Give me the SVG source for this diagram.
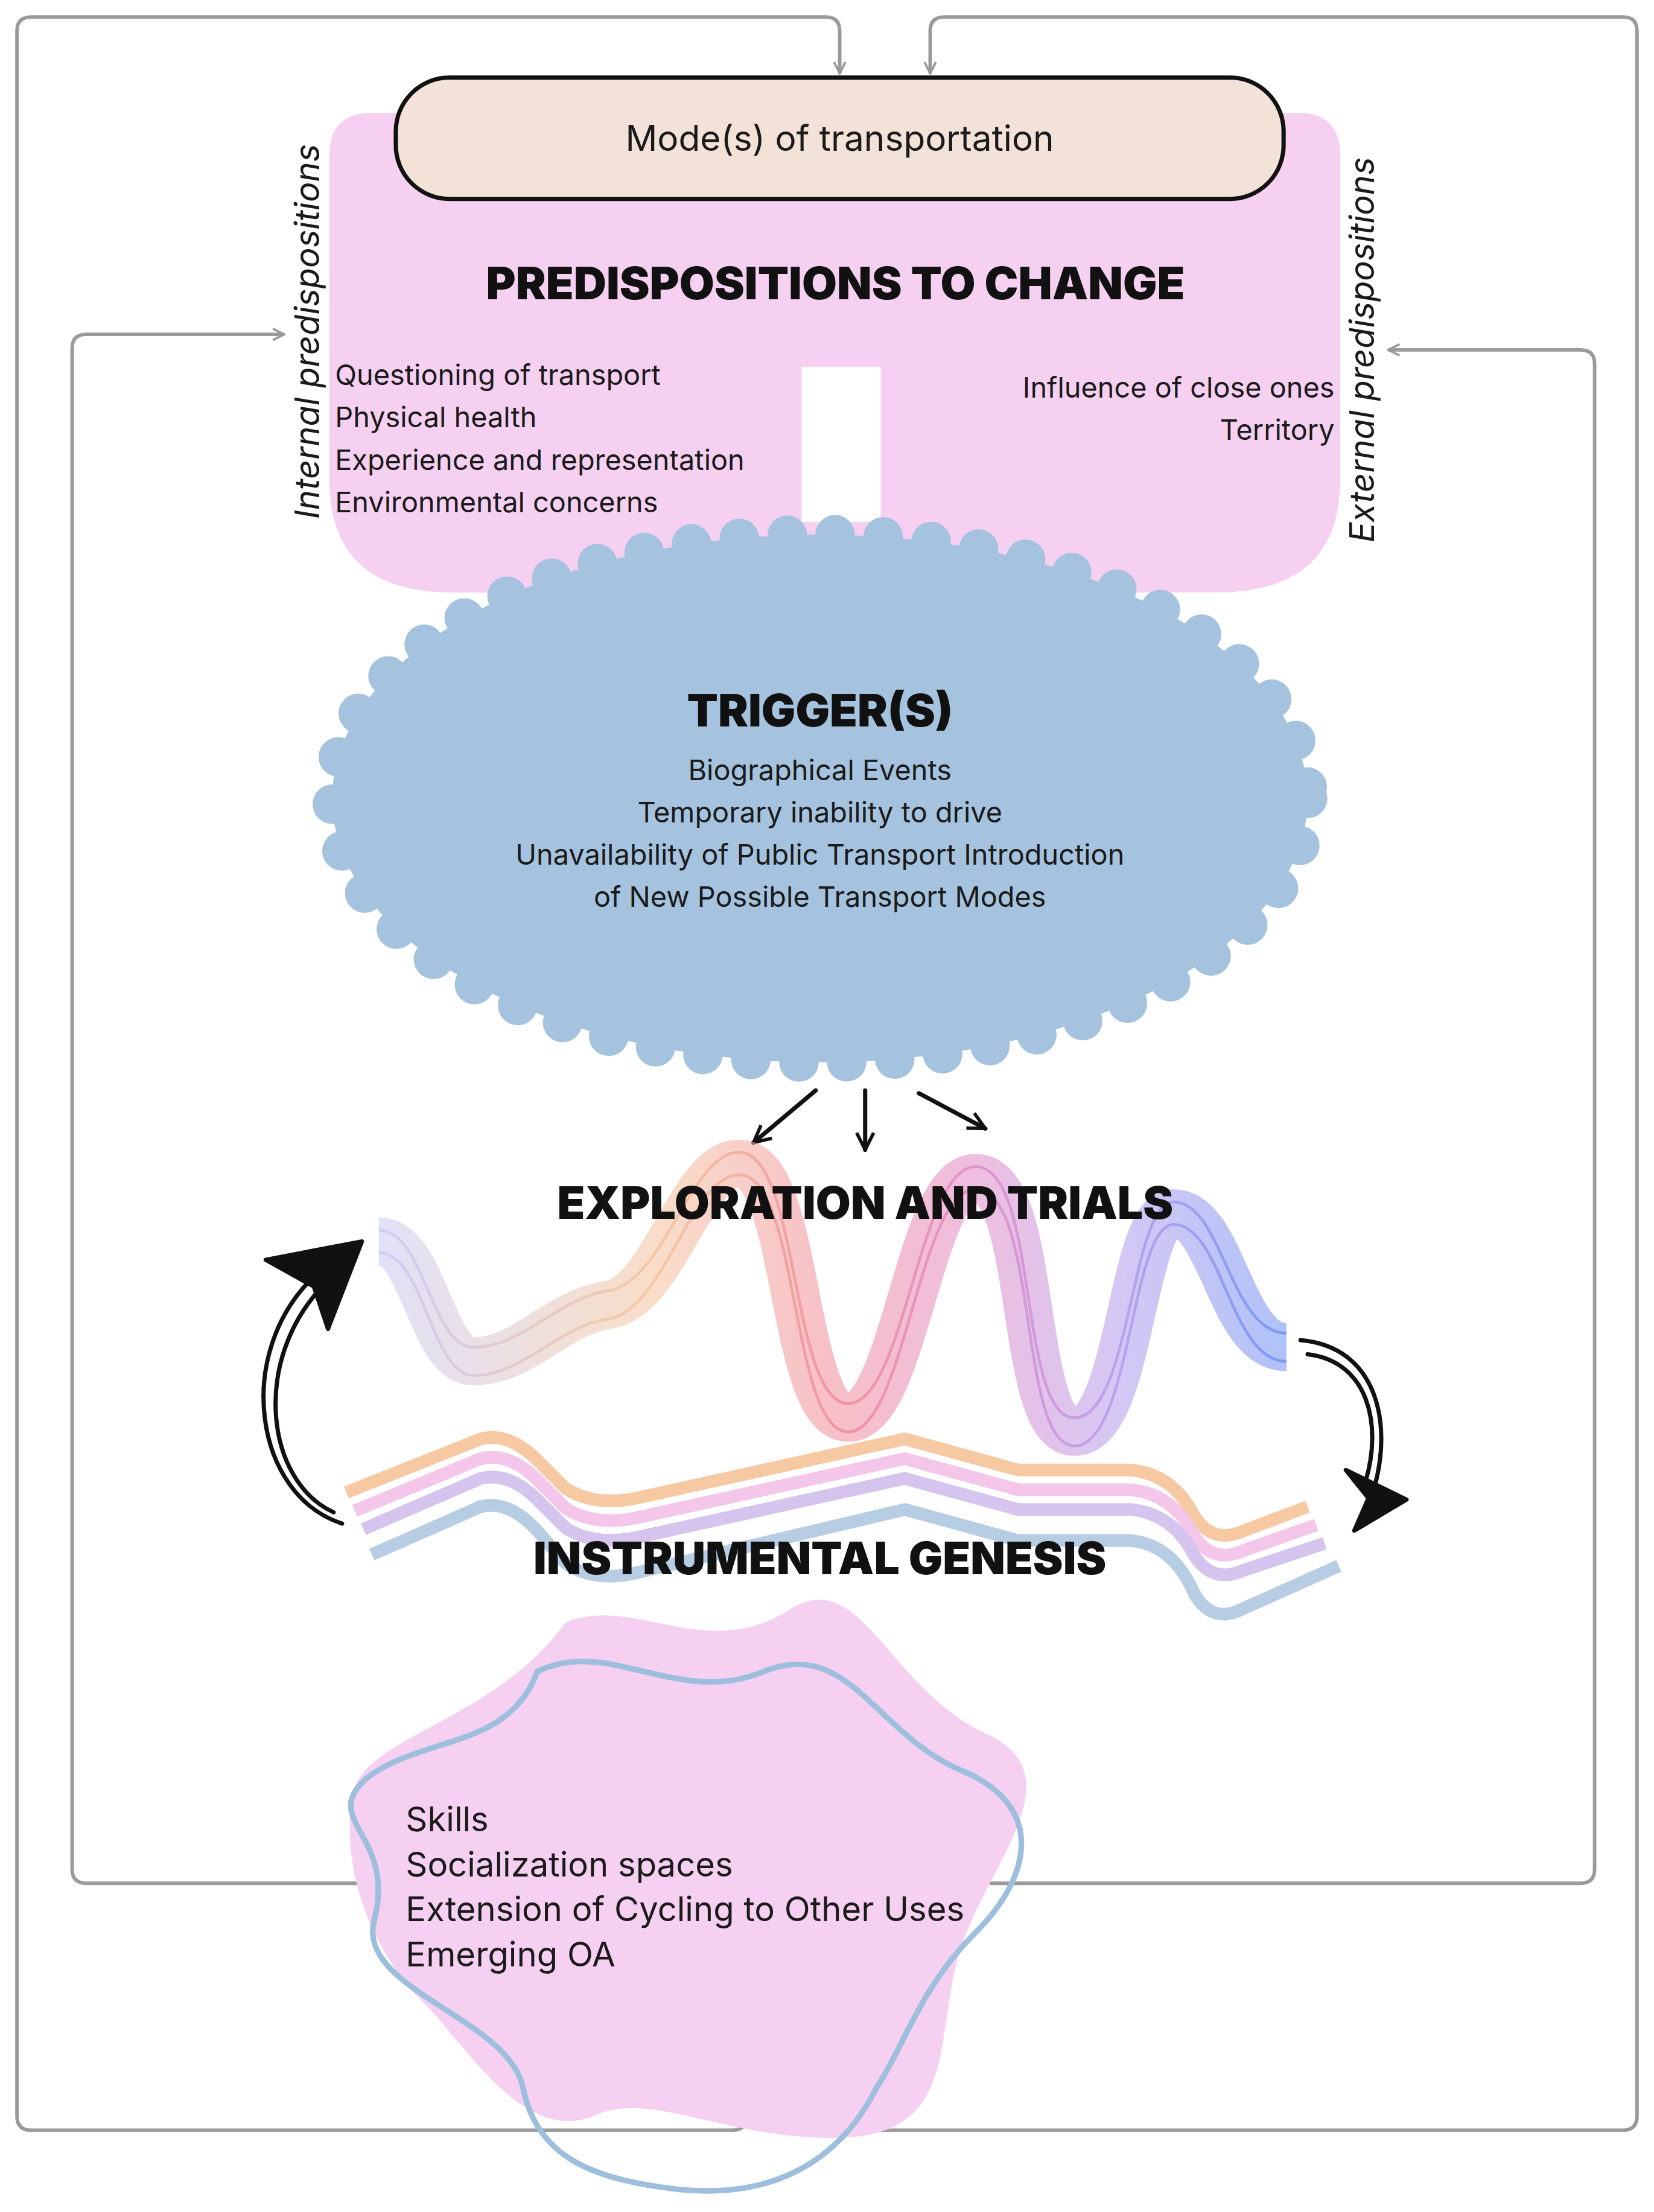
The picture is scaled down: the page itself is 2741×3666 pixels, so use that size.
<svg xmlns="http://www.w3.org/2000/svg" width="2741" height="3666" viewBox="0 0 2741 3666">
<defs>
<style>
.t{font-family:"Inter","Liberation Sans",sans-serif;fill:#1a1a1a}
.b{font-family:"Inter","Liberation Sans",sans-serif;font-weight:900;fill:#111}
.c{fill:none;stroke:#9a9a9a;stroke-width:2.5}
.k{fill:none;stroke:#111;stroke-width:3;stroke-linecap:round}
</style>
<marker id="ga" viewBox="0 0 10 10" refX="9" refY="5" markerWidth="4" markerHeight="4" orient="auto"><path d="M1,1 L9,5 L1,9" fill="none" stroke="#9a9a9a" stroke-width="1.6"/></marker>
<marker id="ka" viewBox="0 0 10 10" refX="9" refY="5" markerWidth="5" markerHeight="5" orient="auto"><path d="M1,1 L9,5 L1,9" fill="none" stroke="#111" stroke-width="1.6"/></marker>
<linearGradient id="wg" x1="268" y1="0" x2="910" y2="0" gradientUnits="userSpaceOnUse">
<stop offset="0" stop-color="#c8c8f2"/><stop offset="0.3" stop-color="#f4c39c"/><stop offset="0.5" stop-color="#f08a98"/><stop offset="0.65" stop-color="#e288c4"/><stop offset="0.82" stop-color="#b09aec"/><stop offset="1" stop-color="#6d90f2"/>
</linearGradient>
</defs>
<rect width="2741" height="3666" fill="#fff"/>
<g transform="scale(2.3427 2.338)">
<g id="connectors">
<path class="c" d="M528,1490 V1500 Q528,1510 518,1510 H22 Q12,1510 12,1500 V22 Q12,12 22,12 H584 Q594,12 594,22 V52" marker-end="url(#ga)"/>
<path class="c" d="M590,1465 V1500 Q590,1510 600,1510 H1148 Q1158,1510 1158,1500 V22 Q1158,12 1148,12 H668 Q658,12 658,22 V52" marker-end="url(#ga)"/>
<path class="c" d="M280,1335 H61 Q51,1335 51,1325 V247 Q51,237 61,237 H201" marker-end="url(#ga)"/>
<path class="c" d="M700,1335 H1118 Q1128,1335 1128,1325 V258 Q1128,248 1118,248 H982" marker-end="url(#ga)"/>
<path class="k" d="M577,773 L533,810" marker-end="url(#ka)"/>
<path class="k" d="M612,773 L612,815" marker-end="url(#ka)"/>
<path class="k" d="M650,775 L697,800" marker-end="url(#ka)"/>
<path class="k" d="M242,1080 C180,1060 165,960 222,905"/>
<path class="k" d="M236,1072 C188,1050 178,965 228,912" stroke-width="1.5"/>
<path d="M188,893 L256,880 L232,942 L222,912 Z" fill="#111" stroke="#111" stroke-width="3" stroke-linejoin="round"/>
<path class="k" d="M920,950 C975,955 985,1010 972,1055"/>
<path class="k" d="M925,960 C968,965 978,1010 966,1050" stroke-width="1.5"/>
<path d="M952,1042 L995,1063 L958,1085 L968,1062 Z" fill="#111" stroke="#111" stroke-width="3" stroke-linejoin="round"/>
</g>
<g id="predispositions">
<path d="M233,110 Q233,80 263,80 H918 Q948,80 948,110 V340 Q948,420 860,420 H320 Q233,420 233,340 Z" fill="#f6d0f1"/>
<rect x="567" y="260" width="56" height="110" fill="#fff"/>
<text class="b" x="591" y="212" font-size="32" text-anchor="middle">PREDISPOSITIONS TO CHANGE</text>
<text class="t" font-size="20" x="237"><tspan y="273">Questioning of transport</tspan><tspan x="237" y="303">Physical health</tspan><tspan x="237" y="333">Experience and representation</tspan><tspan x="237" y="363">Environmental concerns</tspan></text>
<text class="t" font-size="20" text-anchor="end" x="944"><tspan y="282">Influence of close ones</tspan><tspan x="944" y="312">Territory</tspan></text>
<text class="t" font-size="24" font-style="italic" transform="translate(226,235) rotate(-90)" text-anchor="middle">Internal predispositions</text>
<text class="t" font-size="24" font-style="italic" transform="translate(972,248) rotate(-90)" text-anchor="middle">External predispositions</text>
</g>
<g id="mode">
<rect x="280" y="55" width="628" height="86" rx="38" fill="#f3e2d8" stroke="#111" stroke-width="3"/>
<text class="t" x="594" y="107" font-size="25" text-anchor="middle">Mode(s) of transportation</text>
</g>
<g id="trigger">
<ellipse cx="580" cy="566" rx="345" ry="187" fill="#a5c3de" stroke="#a5c3de" stroke-width="28" stroke-dasharray="0 34" stroke-linecap="round"/>
<text class="b" x="580" y="515" font-size="32" text-anchor="middle">TRIGGER(S)</text>
<text class="t" font-size="20" text-anchor="middle" x="580"><tspan y="553">Biographical Events</tspan><tspan x="580" y="583">Temporary inability to drive</tspan><tspan x="580" y="613">Unavailability of Public Transport Introduction</tspan><tspan x="580" y="643">of New Possible Transport Modes</tspan></text>
</g>
<g id="exploration">
<path d="M268,880 C300,880 305,965 335,965 C370,965 395,930 430,925 C470,920 490,820 525,825 C565,830 560,1005 600,1005 C640,1005 650,835 690,835 C735,835 720,1015 760,1015 C800,1015 800,860 830,860 C865,860 870,955 910,955" fill="none" stroke="url(#wg)" stroke-width="34" opacity="0.55"/>
<path d="M268,872 C300,872 305,955 335,955 C370,955 395,920 430,915 C470,910 490,812 525,817 C565,822 560,995 600,995 C640,995 650,827 690,827 C735,827 720,1005 760,1005 C800,1005 800,852 830,852 C865,852 870,945 910,945" fill="none" stroke="url(#wg)" stroke-width="2" opacity="0.8"/>
<path d="M268,888 C300,888 305,975 335,975 C370,975 395,940 430,935 C470,930 490,828 525,833 C565,838 560,1015 600,1015 C640,1015 650,843 690,843 C735,843 720,1025 760,1025 C800,1025 800,868 830,868 C865,868 870,965 910,965" fill="none" stroke="url(#wg)" stroke-width="2" opacity="0.8"/>
<text class="b" x="612" y="864" font-size="32" text-anchor="middle">EXPLORATION AND TRIALS</text>
</g>
<g id="instrumental" fill="none" stroke-width="9" stroke-linejoin="round">
<path d="M245,1058 L340,1020 Q360,1015 380,1035 L400,1055 Q420,1068 450,1062 L640,1020 L720,1042 L800,1042 Q830,1045 845,1075 Q858,1095 880,1085 L925,1068" stroke="#f6c9a3"/>
<path d="M251,1071 L340,1034 Q360,1029 380,1049 L400,1069 Q420,1082 450,1076 L640,1034 L720,1056 L800,1056 Q830,1059 845,1089 Q858,1109 880,1099 L931,1081" stroke="#f4c6ea"/>
<path d="M257,1084 L340,1048 Q360,1043 380,1063 L400,1083 Q420,1096 450,1090 L640,1048 L720,1070 L800,1070 Q830,1073 845,1103 Q858,1123 880,1113 L937,1094" stroke="#d4c4ee"/>
<path d="M263,1102 L340,1068 Q360,1063 380,1085 L400,1108 Q420,1122 450,1115 L640,1070 L720,1092 L800,1092 Q830,1095 845,1130 Q858,1152 880,1140 L947,1110" stroke="#b7cde4"/>
<text class="b" x="580" y="1116" font-size="32" text-anchor="middle" stroke="none">INSTRUMENTAL GENESIS</text>
</g>
<g id="outcomes">
<path d="M400,1150 C450,1130 500,1180 560,1140 C610,1110 630,1200 700,1230 C760,1260 700,1320 680,1380 C660,1440 680,1510 600,1515 C520,1520 460,1480 420,1500 C370,1520 330,1450 300,1420 C260,1380 240,1320 250,1270 C260,1230 350,1220 400,1150 Z" fill="#f6d0f1"/>
<path d="M380,1185 C430,1160 480,1210 540,1185 C600,1160 620,1230 680,1255 C740,1280 730,1330 690,1370 C650,1410 640,1450 620,1480 C600,1520 560,1560 480,1552 C420,1545 380,1530 370,1480 C360,1430 250,1410 265,1360 C280,1300 225,1290 260,1260 C300,1230 360,1240 380,1185 Z" fill="none" stroke="#9dbedc" stroke-width="4"/>
<text class="t" font-size="24" x="287"><tspan y="1298">Skills</tspan><tspan x="287" y="1330">Socialization spaces</tspan><tspan x="287" y="1362">Extension of Cycling to Other Uses</tspan><tspan x="287" y="1394">Emerging OA</tspan></text>
</g>
</g>
</svg>
